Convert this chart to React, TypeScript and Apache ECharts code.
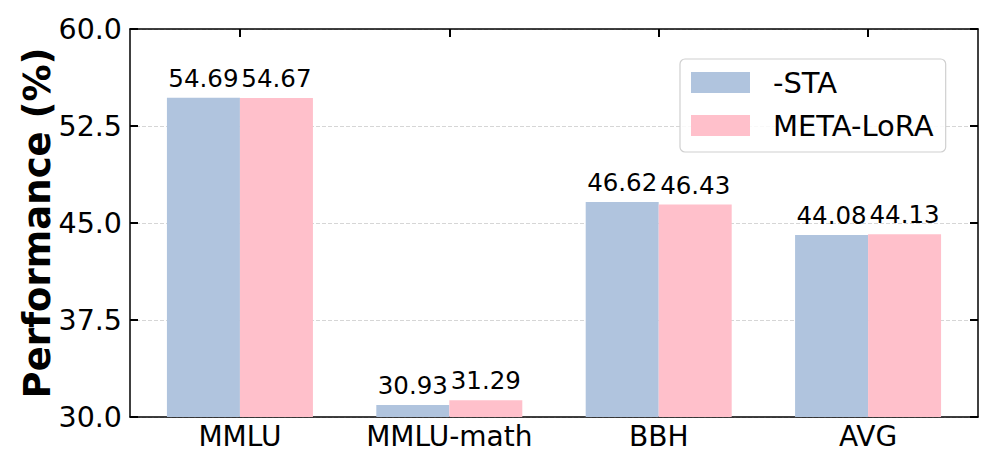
import React, { useEffect, useRef } from "react";
import * as echarts from "echarts";

const categories = ["MMLU", "MMLU-math", "BBH", "AVG"];
const staValues = [54.69, 30.93, 46.62, 44.08];
const metaValues = [54.67, 31.29, 46.43, 44.13];
const seriesNames = ["-STA", "META-LoRA"];
const yTicks = { min: 30, max: 60, interval: 7.5 };

const FONT = "DejaVu Sans";

export default function App() {
  const ref = useRef<HTMLDivElement>(null);
  useEffect(() => {
    if (!ref.current) return;
    const chart = echarts.init(ref.current, null, { renderer: "svg" });
    const catIdx = categories.map((_, i) => i);
    const mkLabel = {
      show: true,
      position: "top",
      distance: 7,
      fontFamily: FONT,
      fontSize: 24.5,
      color: "#000",
      formatter: (p: any) => Number(p.value[1]).toFixed(2),
    };
    chart.setOption({
      animation: false,
      backgroundColor: "#fff",
      grid: { left: 130, top: 29, width: 848, height: 388, containLabel: false },
      legend: {
        left: 680,
        top: 59,
        orient: "vertical",
        icon: "rect",
        itemWidth: 59,
        itemHeight: 21,
        itemGap: 14,
        padding: [9, 12, 12, 11],
        borderColor: "#d0d0d0",
        borderWidth: 1.2,
        borderRadius: 5,
        backgroundColor: "rgba(255,255,255,0.85)",
        textStyle: { fontFamily: FONT, fontSize: 29, color: "#000", padding: [0, 0, 0, 18] },
        data: seriesNames,
      },
      xAxis: [
        {
          type: "value",
          position: "bottom",
          min: -0.525,
          max: 3.525,
          axisLine: { show: true, onZero: false, lineStyle: { color: "#000", width: 1.5 } },
          axisTick: { show: false },
          splitLine: { show: false },
          axisLabel: {
            customValues: catIdx,
            formatter: (v: number) => categories[Math.round(v)] ?? "",
            fontFamily: FONT,
            fontSize: 28,
            color: "#000",
            margin: 5,
          },
        },
        {
          type: "value",
          position: "top",
          min: -0.525,
          max: 3.525,
          axisLine: { show: true, onZero: false, lineStyle: { color: "#000", width: 1.5 } },
          axisTick: {
            show: true,
            inside: true,
            length: 8,
            customValues: catIdx,
            lineStyle: { color: "#000", width: 2 },
          },
          axisLabel: { show: false },
          splitLine: { show: false },
        },
      ],
      yAxis: [
        {
          type: "value",
          position: "left",
          min: yTicks.min,
          max: yTicks.max,
          interval: yTicks.interval,
          name: "Performance (%)",
          nameLocation: "middle",
          nameMoveOverlap: false,
          nameGap: 74,
          nameTextStyle: { fontFamily: FONT, fontSize: 37, fontWeight: "bold", color: "#000" },
          axisLine: { show: true, onZero: false, lineStyle: { color: "#000", width: 1.5 } },
          axisTick: { show: true, inside: true, length: 8, lineStyle: { color: "#000", width: 2 } },
          axisLabel: {
            formatter: (v: number) => v.toFixed(1),
            fontFamily: FONT,
            fontSize: 28.5,
            color: "#000",
            margin: 8,
          },
          splitLine: { show: true, lineStyle: { color: "#cccccc", width: 0.8, type: [4, 2] } },
        },
        {
          type: "value",
          position: "right",
          min: yTicks.min,
          max: yTicks.max,
          interval: yTicks.interval,
          axisLine: { show: true, onZero: false, lineStyle: { color: "#000", width: 1.5 } },
          axisTick: { show: true, inside: true, length: 8, lineStyle: { color: "#000", width: 2 } },
          axisLabel: { show: false },
          splitLine: { show: false },
        },
      ],
      series: [
        {
          name: seriesNames[0],
          type: "bar",
          xAxisIndex: 0,
          yAxisIndex: 0,
          barWidth: 73,
          barGap: "0%",
          itemStyle: { color: "#B0C4DE" },
          label: mkLabel,
          data: staValues.map((v, i) => [i, v]),
        },
        {
          name: seriesNames[1],
          type: "bar",
          xAxisIndex: 0,
          yAxisIndex: 0,
          barWidth: 73,
          barGap: "0%",
          itemStyle: { color: "#FFC0CB" },
          label: mkLabel,
          data: metaValues.map((v, i) => [i, v]),
        },
      ],
    });
    return () => chart.dispose();
  }, []);
  return (
    <div
      ref={ref}
      style={{ position: "fixed", left: 0, top: 0, width: 997, height: 469, background: "#fff" }}
    />
  );
}
